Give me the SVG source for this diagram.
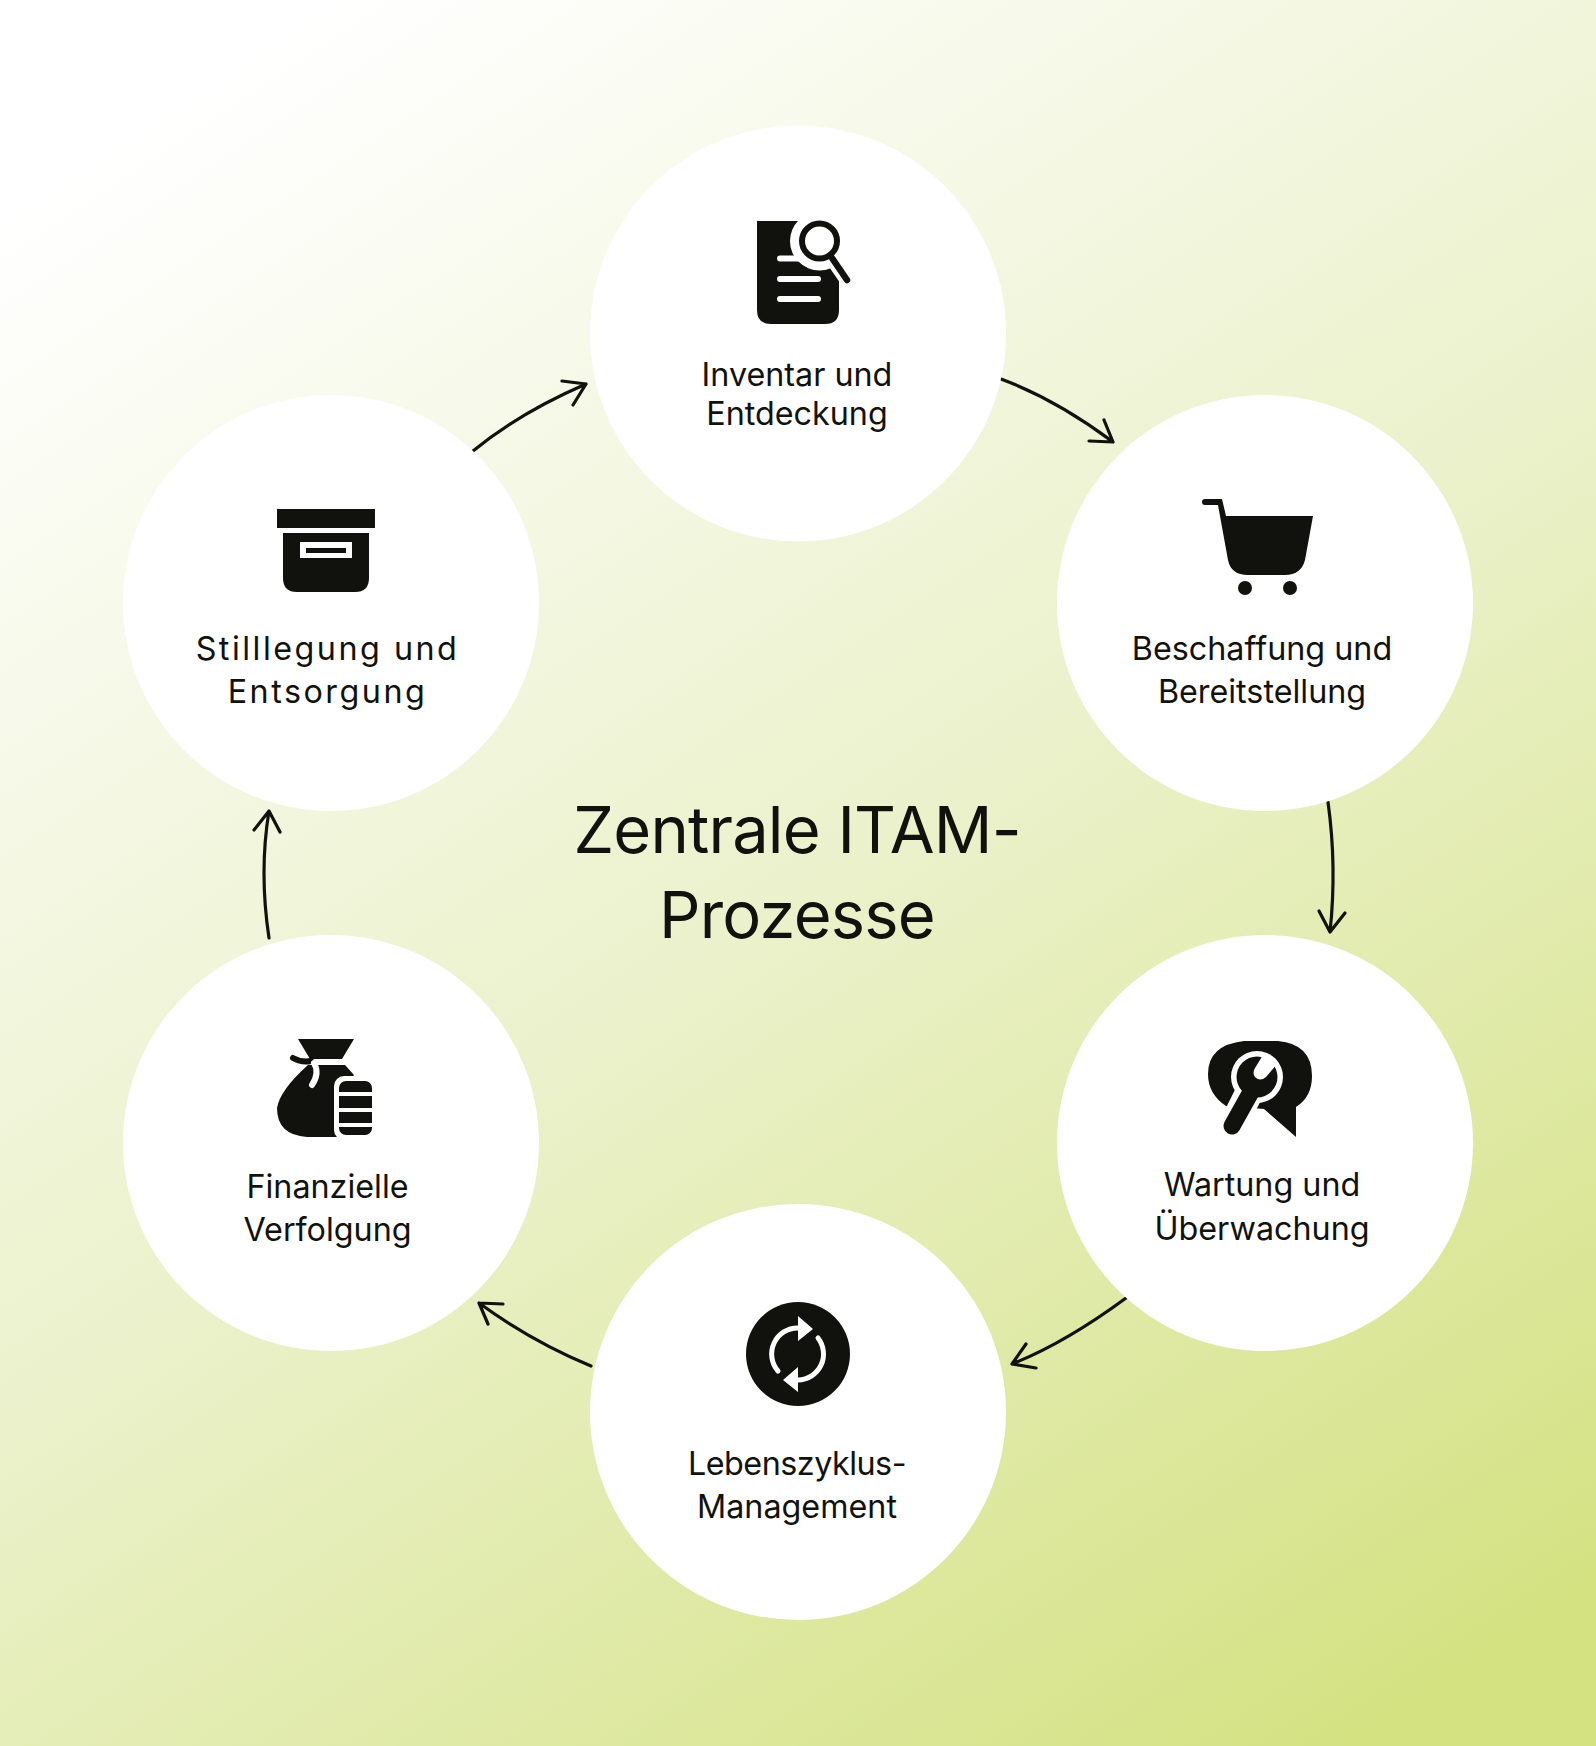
<svg xmlns="http://www.w3.org/2000/svg" width="1596" height="1746" viewBox="0 0 1596 1746">
<style>
.c{fill:#fff}
.i{fill:#11120d}
.w{fill:#fff}
.l{font-family:"Inter","Liberation Sans",sans-serif;font-size:32.300px;fill:#11120d;text-anchor:middle}
.t{font-family:"Inter","Liberation Sans",sans-serif;font-size:65px;letter-spacing:-0.800px;fill:#11120d;text-anchor:middle}
.a{fill:none;stroke:#11120d;stroke-width:3.200;stroke-linecap:round;stroke-linejoin:round}
.sw{fill:none;stroke:#fff;stroke-linecap:round}
.sb{fill:none;stroke:#11120d;stroke-linecap:round}
</style>
<defs>
<linearGradient id="bg" gradientUnits="userSpaceOnUse" x1="240" y1="60" x2="1360" y2="1746">
<stop offset="0" stop-color="#ffffff"/>
<stop offset="0.5" stop-color="#ebf1cb"/>
<stop offset="1" stop-color="#d4e282"/>
</linearGradient>
</defs>
<rect width="1596" height="1746" fill="url(#bg)"/>
<g id="connectors">
<path class="a" d="M1001 379Q1057 400 1113 442M1104 420L1113 442L1089 441"/>
<path class="a" d="M1328 802Q1337 867 1330 932M1319 911L1330 932L1345 913"/>
<path class="a" d="M1126 1298Q1065 1343 1012 1364M1026 1344L1012 1364L1036 1368"/>
<path class="a" d="M591 1366Q531 1341 479 1303M503 1304L479 1303L488 1324"/>
<path class="a" d="M269 938Q259 872 269 811M254 830L269 811L280 832"/>
<path class="a" d="M473 451Q519 413 586 384M562 381L586 384L573 405"/>
</g>
<g id="title"><text class="t" x="797" y="853">Zentrale ITAM-</text><text class="t" x="797" y="938">Prozesse</text></g>
<g id="node-inventar">
<circle class="c" cx="798" cy="333.5" r="208"/>
<path class="i" d="M757 221H839V310Q839 324 825 324H771Q757 324 757 310Z"/>
<circle class="w" cx="819.500" cy="241" r="29.500"/>
<path class="sw" d="M832 258L850 284" stroke-width="15"/>
<path class="sw" d="M780 258.500H800M780 279H818M780 299H818" stroke-width="6"/>
<circle cx="819.500" cy="241" r="17.500" fill="#fff" stroke="#11120d" stroke-width="6"/>
<path class="sb" d="M832 258L847 280" stroke-width="6.500"/>
<text class="l" x="797" y="386">Inventar und</text><text class="l" x="797" y="425">Entdeckung</text>
</g>
<g id="node-beschaffung">
<circle class="c" cx="1265" cy="603" r="208"/>
<path class="i" d="M1205 499H1222L1226 516H1313L1305 560Q1301 575 1285 575H1248Q1231 575 1228 560L1218 505H1205A3 3 0 0 1 1205 499Z"/>
<circle class="i" cx="1245" cy="588" r="7"/><circle class="i" cx="1290" cy="588" r="7"/>
<text class="l" x="1262" y="660">Beschaffung und</text><text class="l" x="1262" y="703">Bereitstellung</text>
</g>
<g id="node-wartung">
<circle class="c" cx="1265" cy="1143" r="208"/>
<path class="i" d="M1244 1041H1278Q1312 1044 1312 1076Q1312 1097 1296 1107V1137L1264 1109L1226 1106Q1208 1094 1208 1074Q1208 1045 1244 1041Z"/>
<circle class="w" cx="1257" cy="1077" r="26"/>
<path class="sw" d="M1255 1081L1232 1127" stroke-width="28"/>
<circle class="i" cx="1257" cy="1077" r="20.500"/>
<path class="sb" d="M1251 1092L1232 1126" stroke-width="17"/>
<path class="w" d="M1263 1055L1278 1063L1266 1077Q1260 1082 1255 1077Q1252 1073 1255 1068Z"/>
<text class="l" x="1262" y="1196">Wartung und</text><text class="l" x="1262" y="1240">Überwachung</text>
</g>
<g id="node-lebenszyklus">
<circle class="c" cx="798" cy="1412" r="208"/>
<circle class="i" cx="798" cy="1354" r="52"/>
<path class="sw" d="M778 1371A26 26 0 0 1 798 1328M818 1338A26 26 0 0 1 798 1380" stroke-width="5"/>
<path class="w" d="M798 1316L813 1329L798 1341ZM798 1367L783 1380L798 1392Z"/>
<text class="l" x="797" y="1475" style="letter-spacing:-0.500px">Lebenszyklus-</text><text class="l" x="797" y="1518">Management</text>
</g>
<g id="node-finanzielle">
<circle class="c" cx="331" cy="1143" r="208"/>
<path class="i" d="M298 1039H354L342 1059H310Z"/>
<path class="i" d="M308 1065H345L354 1075L347 1083Q338 1085 338 1095V1125Q338 1135 344 1137H307Q277 1135 277 1108Q280 1090 308 1065Z"/>
<path class="sb" d="M293 1058Q302 1063 311 1061" stroke-width="6"/>
<path class="sw" d="M314 1063Q320 1073 312 1085" stroke-width="6"/>
<rect class="w" x="334" y="1076" width="42" height="64" rx="10"/>
<rect class="i" x="339" y="1081" width="33" height="54" rx="7"/>
<path class="sw" d="M339 1094H372M339 1110H372M339 1125H372" stroke-width="4" stroke-linecap="butt"/>
<text class="l" x="327.500" y="1198">Finanzielle</text><text class="l" x="327.500" y="1241">Verfolgung</text>
</g>
<g id="node-stilllegung">
<circle class="c" cx="331" cy="603" r="208"/>
<rect class="i" x="277" y="509" width="98" height="19"/>
<path class="i" d="M283 533H369V578Q369 592 355 592H297Q283 592 283 578Z"/>
<rect class="w" x="300" y="542" width="52" height="16"/>
<rect class="i" x="306" y="548" width="40" height="5"/>
<text class="l" x="327.500" y="660" style="letter-spacing:2.500px">Stilllegung und</text><text class="l" x="327.500" y="703" style="letter-spacing:2.500px">Entsorgung</text>
</g>
</svg>
